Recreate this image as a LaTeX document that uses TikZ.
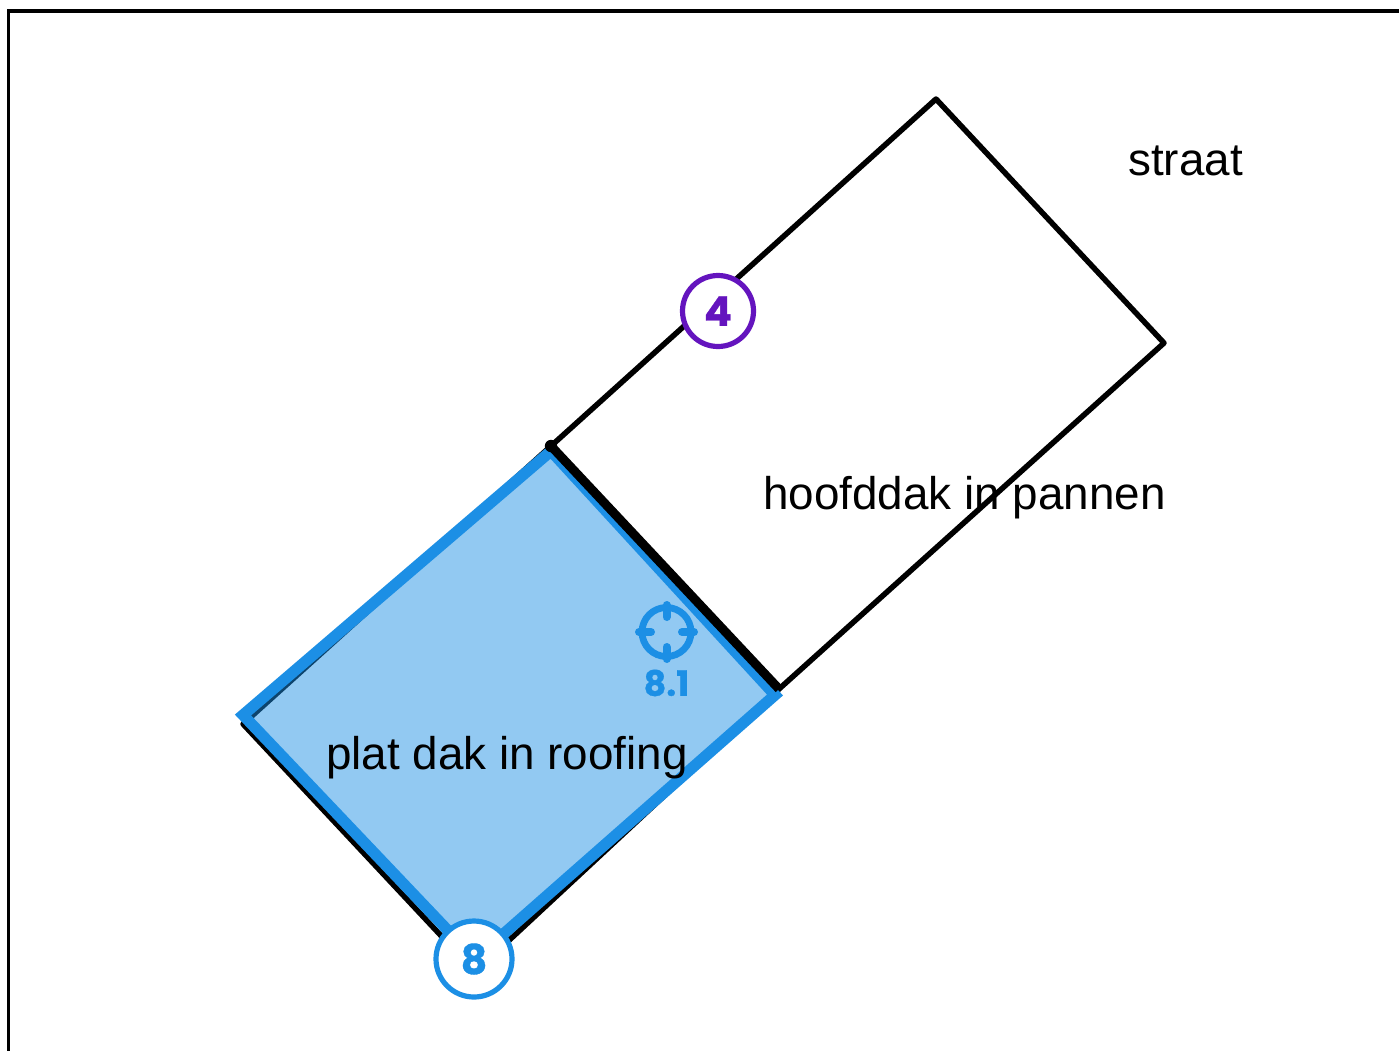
\documentclass[tikz,border=0pt]{standalone}
\usepackage{fontspec}
\setmainfont{Liberation Sans}
\newfontfamily\badgefont{Poppins}[BoldFeatures={FakeBold=0.8}]
\definecolor{roofblue}{HTML}{1C8FE5}
\definecolor{badgepurple}{HTML}{6414BE}
\tikzset{
  x=1pt,y=-1pt,
  label text/.style={text=black,font=\fontsize{45.8}{50}\selectfont,inner sep=0pt,anchor=base west},
  badge/.style={circle,draw=#1,fill=white,text=#1,line width=5.2pt,inner sep=0pt,font=\badgefont\bfseries\fontsize{41}{42}\selectfont},
  roof line/.style={draw=black,line width=5.5pt,line join=round,line cap=round},
  flat roof/.style={draw=roofblue,line width=11.2pt,line join=miter},
}
\begin{document}
\begin{tikzpicture}
\useasboundingbox (0,0) rectangle (1399,1050);
\fill[white] (0,0) rectangle (1399,1050);
\draw[black,line width=3.2pt] (8.5,1060) -- (8.5,11) -- (1410,11);
\coordinate (a) at (936,99);
\coordinate (b) at (1164,343);
\coordinate (c) at (779,689);
\coordinate (d) at (551,446);
\coordinate (e) at (243,724);
\coordinate (f) at (475,972);
\draw[roof line] (d) -- (a) -- (b) -- (c);
\draw[roof line] (d) -- (e) -- (f) -- (c);
\coordinate (p) at (243,715);
\coordinate (q) at (551,451);
\coordinate (r) at (775,695);
\coordinate (s) at (475,959);
\fill[roofblue,opacity=.48] (p) -- (q) -- (r) -- (s) -- cycle;
\draw[flat roof] (p) -- (q) -- (r) -- (s) -- cycle;
\draw[black,line width=9pt] (d) -- (c);
\fill[black] (d) circle (6.2pt);
\node[label text] (straat) at (1128,175.5) {straat};
\node[label text] (hoofd) at (763,509) {hoofddak in pannen};
\node[label text] (plat) at (326,769) {plat dak in roofing};
\node[badge=badgepurple,minimum size=71pt] (four) at (718,311) {4};
\node[badge=roofblue,minimum size=76pt] (eight) at (474,959) {8};
\coordinate (t) at (666.5,632);
\draw[roofblue,line width=6.8pt] (t) circle (24.5pt);
\draw[roofblue,line width=8pt,line cap=round]
  (666.5,605) -- (666.5,617) (666.5,647) -- (666.5,659)
  (639,632) -- (651,632) (682,632) -- (694,632);
\node[text=roofblue,inner sep=0pt,font=\badgefont\bfseries\fontsize{35}{36}\selectfont] (tag) at (666.5,683) {8.1};
\end{tikzpicture}
\end{document}
